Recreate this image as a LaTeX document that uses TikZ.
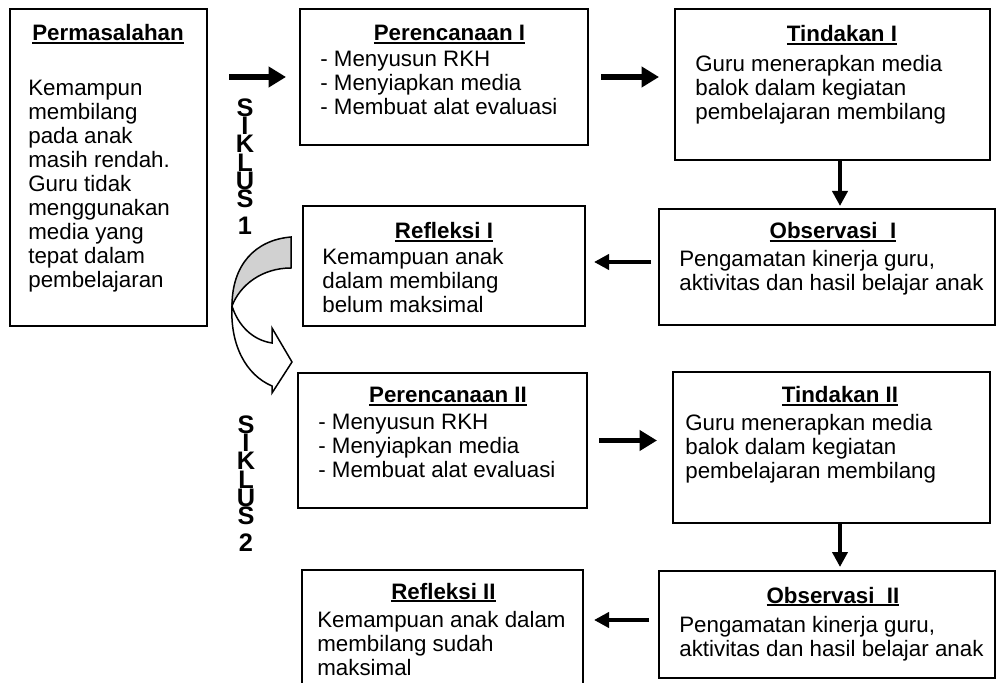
\documentclass[tikz,border=0pt]{standalone}
\usepackage{fontspec}
\setmainfont{Liberation Sans}
\usetikzlibrary{arrows.meta, calc}

% thick underline for the box titles
\newcommand{\ulbox}[1]{\setbox0\hbox{#1}\rlap{\vrule height -0.8pt depth 2pt width \wd0}\box0}

\begin{document}
\begin{tikzpicture}[
    x=0.6pt, y=-0.6pt,
    frame/.style={
        rectangle,
        draw=black,
        line width=1.2pt,
        inner sep=0pt
    },
    head/.style={
        anchor=base,
        inner sep=0pt,
        font=\fontsize{13.4}{14.4}\selectfont\bfseries
    },
    body/.style={
        anchor=north west,
        inner sep=0pt,
        align=left,
        font=\fontsize{13.4}{14.4}\selectfont
    },
    siklus/.style={
        anchor=north,
        inner sep=0pt,
        align=center,
        font=\fontsize{15.2}{11}\selectfont\bfseries
    },
    bigarrow/.style={
        line width=3.4pt,
        -{Triangle[length=10.5pt,width=12pt]}
    },
    smallarrow/.style={
        line width=2.4pt,
        -{Triangle[length=9pt,width=9pt]}
    }
]
\clip (0,0) rectangle (998,683);

% Left column - problem
\node[frame, minimum width=118.2pt, minimum height=190.2pt] (masalah) at (108.5,167.5) {};
\node[head] (masalahH) at (108,41) {\ulbox{Permasalahan}};
\node[body] (masalahB) at (28,80) {Kemampun\\membilang\\pada anak\\masih rendah.\\Guru tidak\\menggunakan\\media yang\\tepat dalam\\pembelajaran};

% Cycle 1
\node[frame, minimum width=172.8pt, minimum height=81.6pt] (perI) at (444,77) {};
\node[head] (perIH) at (449.5,41) {\ulbox{Perencanaan I}};
\node[body] (perIB) at (320,51) {- Menyusun RKH\\- Menyiapkan media\\- Membuat alat evaluasi};

\node[frame, minimum width=189pt, minimum height=90.6pt] (tinI) at (832.5,84.5) {};
\node[head] (tinIH) at (842,42) {\ulbox{Tindakan I}};
\node[body] (tinIB) at (695,55) {Guru menerapkan media\\balok dalam kegiatan\\pembelajaran membilang};

\node[frame, minimum width=201.6pt, minimum height=69.6pt] (obsI) at (827,267) {};
\node[head] (obsIH) at (833,239) {\ulbox{Observasi\ \ I}};
\node[body] (obsIB) at (679,250) {Pengamatan kinerja guru,\\aktivitas dan hasil belajar anak};

\node[frame, minimum width=169.2pt, minimum height=72pt] (refI) at (444,266) {};
\node[head] (refIH) at (444,239) {\ulbox{Refleksi I}};
\node[body] (refIB) at (322,248) {Kemampuan anak\\dalam membilang\\belum maksimal};

% Cycle 2
\node[frame, minimum width=173.4pt, minimum height=81pt] (perII) at (442.5,440.5) {};
\node[head] (perIIH) at (448,403) {\ulbox{Perencanaan II}};
\node[body] (perIIB) at (318,414) {- Menyusun RKH\\- Menyiapkan media\\- Membuat alat evaluasi};

\node[frame, minimum width=190.2pt, minimum height=90.6pt] (tinII) at (831.5,447.5) {};
\node[head] (tinIIH) at (840,403) {\ulbox{Tindakan II}};
\node[body] (tinIIB) at (685,414) {Guru menerapkan media\\balok dalam kegiatan\\pembelajaran membilang};

\node[frame, minimum width=201.6pt, minimum height=64.2pt] (obsII) at (827,624.5) {};
\node[head] (obsIIH) at (833,603) {\ulbox{Observasi\ \ II}};
\node[body] (obsIIB) at (679,616) {Pengamatan kinerja guru,\\aktivitas dan hasil belajar anak};

\node[frame, minimum width=168.6pt, minimum height=84pt] (refII) at (442.5,640) {};
\node[head] (refIIH) at (443.5,599) {\ulbox{Refleksi II}};
\node[body] (refIIB) at (317,611) {Kemampuan anak dalam\\membilang sudah\\maksimal};

% Cycle labels
\node[siklus] (siklusI) at (245,98) {S\\I\\K\\L\\U\\S\\[5pt]1};
\node[siklus] (siklusII) at (246,415) {S\\I\\K\\L\\U\\S\\[5pt]2};

% Arrows
\draw[bigarrow] ($(masalah.east |- perI.west)+(21,0)$) -- ($(perI.west)+(-13,0)$);
\draw[bigarrow] ($(perI.east)+(12,0)$) -- ($(perI.east -| tinI.west)+(-15,0)$);
\draw[smallarrow] ($(tinI.south)+(7.5,0)$) -- ($(tinI.south |- obsI.north)+(7.5,-2)$);
\draw[smallarrow] ($(obsI.west)+(-7,-5)$) -- ($(refI.east |- obsI.west)+(8,-5)$);
\draw[bigarrow] ($(perII.east)+(11,0)$) -- ($(perII.east -| tinII.west)+(-15,0)$);
\draw[smallarrow] ($(tinII.south)+(8.5,0)$) -- ($(tinII.south |- obsII.north)+(8.5,-3)$);
\draw[smallarrow] ($(obsII.west)+(-9,-4.5)$) -- ($(refII.east |- obsII.west)+(10,-4.5)$);

% Curved arrow from cycle 1 to cycle 2
\draw[line width=0.9pt, fill=white] (232,306) .. controls (230,345) and (246,375) .. (272,386) -- (272,393) -- (292,362) -- (272,328) -- (272,343) .. controls (252,340) and (238,325) .. cycle;
\draw[line width=0.9pt, fill=black!18] (291,237) -- (291,268) .. controls (262,268) and (240,285) .. (232,306) .. controls (232,265) and (255,240) .. cycle;

\end{tikzpicture}
\end{document}
